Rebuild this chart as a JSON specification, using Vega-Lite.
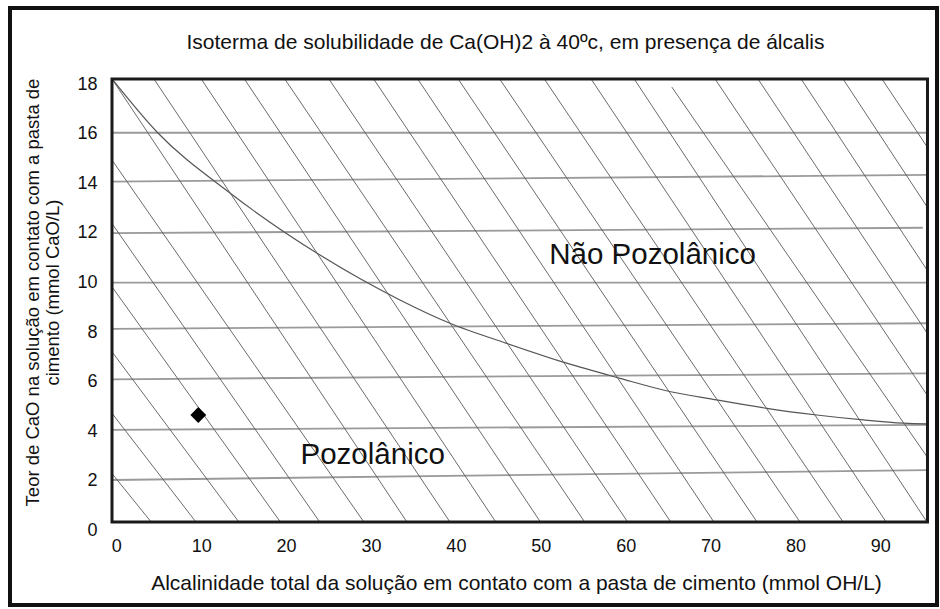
{
  "$schema": "https://vega.github.io/schema/vega-lite/v6.json",
  "autosize": {"type": "none"},
  "padding": {"left": 10, "top": 8, "right": 3, "bottom": 4},
  "width": 927,
  "height": 597,
  "background": "white",
  "title": {
    "text": "Isoterma de solubilidade de Ca(OH)2 à 40ºc, em presença de álcalis",
    "fontSize": 21,
    "fontWeight": "normal",
    "color": "#111111",
    "anchor": "middle",
    "offset": -45,
    "dx": 32
  },
  "config": {
    "font": "Liberation Sans",
    "view": {"stroke": "#111111", "strokeWidth": 4}
  },
  "datasets": {
    "grid": [
      {"x": -0.506, "y": 16.04, "x2": 95.49, "y2": 16.04},
      {"x": -0.506, "y": 14.07, "x2": 95.49, "y2": 14.34},
      {"x": -0.506, "y": 11.99, "x2": 95.0, "y2": 12.21},
      {"x": -0.506, "y": 10.0, "x2": 95.49, "y2": 10.0},
      {"x": -0.506, "y": 8.13, "x2": 95.49, "y2": 8.36},
      {"x": -0.506, "y": 6.1, "x2": 95.49, "y2": 6.34},
      {"x": -0.506, "y": 4.06, "x2": 95.49, "y2": 4.26},
      {"x": -0.506, "y": 2.04, "x2": 95.49, "y2": 2.44}
    ],
    "hatch": [
      {"x": -0.506, "y": 18.21, "x2": 34.23, "y2": 0.347},
      {"x": 4.43, "y": 18.21, "x2": 39.3, "y2": 0.347},
      {"x": 10.0, "y": 18.21, "x2": 44.7, "y2": 0.347},
      {"x": 15.08, "y": 18.21, "x2": 49.96, "y2": 0.347},
      {"x": 19.84, "y": 18.21, "x2": 55.17, "y2": 0.347},
      {"x": 25.04, "y": 18.21, "x2": 60.24, "y2": 0.347},
      {"x": 30.31, "y": 18.21, "x2": 65.31, "y2": 0.347},
      {"x": 35.5, "y": 18.21, "x2": 70.39, "y2": 0.347},
      {"x": 40.26, "y": 18.21, "x2": 75.47, "y2": 0.347},
      {"x": 45.15, "y": 18.21, "x2": 80.53, "y2": 0.347},
      {"x": 50.41, "y": 18.21, "x2": 85.61, "y2": 0.347},
      {"x": 55.92, "y": 18.21, "x2": 90.68, "y2": 0.347},
      {"x": 61.0, "y": 18.21, "x2": 95.49, "y2": 0.347},
      {"x": 65.44, "y": 17.88, "x2": 95.49, "y2": 2.98},
      {"x": 70.52, "y": 18.21, "x2": 95.49, "y2": 5.47},
      {"x": 75.58, "y": 18.21, "x2": 95.49, "y2": 7.97},
      {"x": 80.66, "y": 18.21, "x2": 95.49, "y2": 10.51},
      {"x": 85.6, "y": 18.21, "x2": 95.49, "y2": 13.06},
      {"x": 90.18, "y": 18.21, "x2": 95.49, "y2": 15.48},
      {"x": -0.506, "y": 14.94, "x2": 29.16, "y2": 0.347},
      {"x": -0.506, "y": 12.38, "x2": 23.96, "y2": 0.347},
      {"x": -0.506, "y": 9.83, "x2": 19.33, "y2": 0.347},
      {"x": -0.506, "y": 7.21, "x2": 14.44, "y2": 0.347},
      {"x": -0.506, "y": 4.73, "x2": 9.38, "y2": 0.347},
      {"x": -0.506, "y": 2.3, "x2": 4.11, "y2": 0.347}
    ],
    "curve": [
      {"x": -0.506, "y": 18.21},
      {"x": 4.79, "y": 16.07},
      {"x": 13.39, "y": 13.61},
      {"x": 23.99, "y": 11.11},
      {"x": 33.41, "y": 9.3},
      {"x": 39.3, "y": 8.36},
      {"x": 45.98, "y": 7.55},
      {"x": 53.05, "y": 6.75},
      {"x": 59.33, "y": 6.14},
      {"x": 64.43, "y": 5.67},
      {"x": 70.72, "y": 5.27},
      {"x": 76.61, "y": 4.93},
      {"x": 82.5, "y": 4.66},
      {"x": 87.99, "y": 4.46},
      {"x": 92.7, "y": 4.33},
      {"x": 95.45, "y": 4.3}
    ],
    "sample": [{"x": 9.66, "y": 4.66}],
    "regions": [
      {"x": 51.0, "y": 10.75, "text": "Não Pozolânico"},
      {"x": 21.7, "y": 2.685, "text": "Pozolânico"}
    ]
  },
  "layer": [
    {
      "data": {"name": "grid"},
      "mark": {"type": "rule", "stroke": "#9a9a9a", "strokeWidth": 1.8},
      "encoding": {
        "x": {
          "field": "x", "type": "quantitative",
          "scale": {"domain": [-12.52, 96.67], "nice": false, "zero": false},
          "axis": {
            "orient": "bottom", "offset": -83, "domain": false, "ticks": false, "tickSize": 0, "grid": false,
            "values": [0, 10, 20, 30, 40, 50, 60, 70, 80, 90],
            "labelFlush": false, "labelFontSize": 18, "labelColor": "#111111", "labelPadding": 15,
            "title": "Alcalinidade total da solução em contato com a pasta de cimento (mmol OH/L)",
            "titleFontSize": 21, "titleFontWeight": "normal", "titleColor": "#111111",
            "titlePadding": 17, "titleX": 506
          }
        },
        "x2": {"field": "x2"},
        "y": {
          "field": "y", "type": "quantitative",
          "scale": {"domain": [-3.0, 21.07], "nice": false, "zero": false},
          "axis": {
            "orient": "left", "offset": -102, "domain": false, "ticks": false, "tickSize": 0, "grid": false,
            "values": [0, 2, 4, 6, 8, 10, 12, 14, 16, 18],
            "labelFlush": false, "labelFontSize": 18, "labelColor": "#111111", "labelPadding": 15,
            "title": ["Teor de CaO na solução em contato com a pasta de", "cimento (mmol CaO/L)"],
            "titleFontSize": 18.5, "titleFontWeight": "normal", "titleColor": "#111111",
            "titleAlign": "center", "titleY": 284,
            "titlePadding": 14, "titleLineHeight": 20
          }
        },
        "y2": {"field": "y2"}
      }
    },
    {
      "data": {"name": "hatch"},
      "mark": {"type": "rule", "stroke": "#5a5a5a", "strokeWidth": 0.9},
      "encoding": {
        "x": {"field": "x", "type": "quantitative"},
        "x2": {"field": "x2"},
        "y": {"field": "y", "type": "quantitative"},
        "y2": {"field": "y2"}
      }
    },
    {
      "data": {"name": "curve"},
      "mark": {"type": "line", "interpolate": "monotone", "stroke": "#555555", "strokeWidth": 1.2},
      "encoding": {
        "x": {"field": "x", "type": "quantitative"},
        "y": {"field": "y", "type": "quantitative"}
      }
    },
    {
      "data": {"name": "sample"},
      "mark": {"type": "point", "shape": "diamond", "filled": true, "color": "#000000", "size": 250, "opacity": 1},
      "encoding": {
        "x": {"field": "x", "type": "quantitative"},
        "y": {"field": "y", "type": "quantitative"}
      }
    },
    {
      "data": {"name": "regions"},
      "mark": {"type": "text", "align": "left", "baseline": "alphabetic", "fontSize": 29.5, "color": "#111111"},
      "encoding": {
        "x": {"field": "x", "type": "quantitative"},
        "y": {"field": "y", "type": "quantitative"},
        "text": {"field": "text"}
      }
    },
    {
      "data": {"values": [{}]},
      "mark": {"type": "rect", "fill": null, "fillOpacity": 0, "stroke": "#1a1a1a", "strokeWidth": 3},
      "encoding": {
        "x": {"datum": -0.506, "type": "quantitative"},
        "x2": {"datum": 95.55},
        "y": {"datum": 0.347, "type": "quantitative"},
        "y2": {"datum": 18.21}
      }
    }
  ]
}
